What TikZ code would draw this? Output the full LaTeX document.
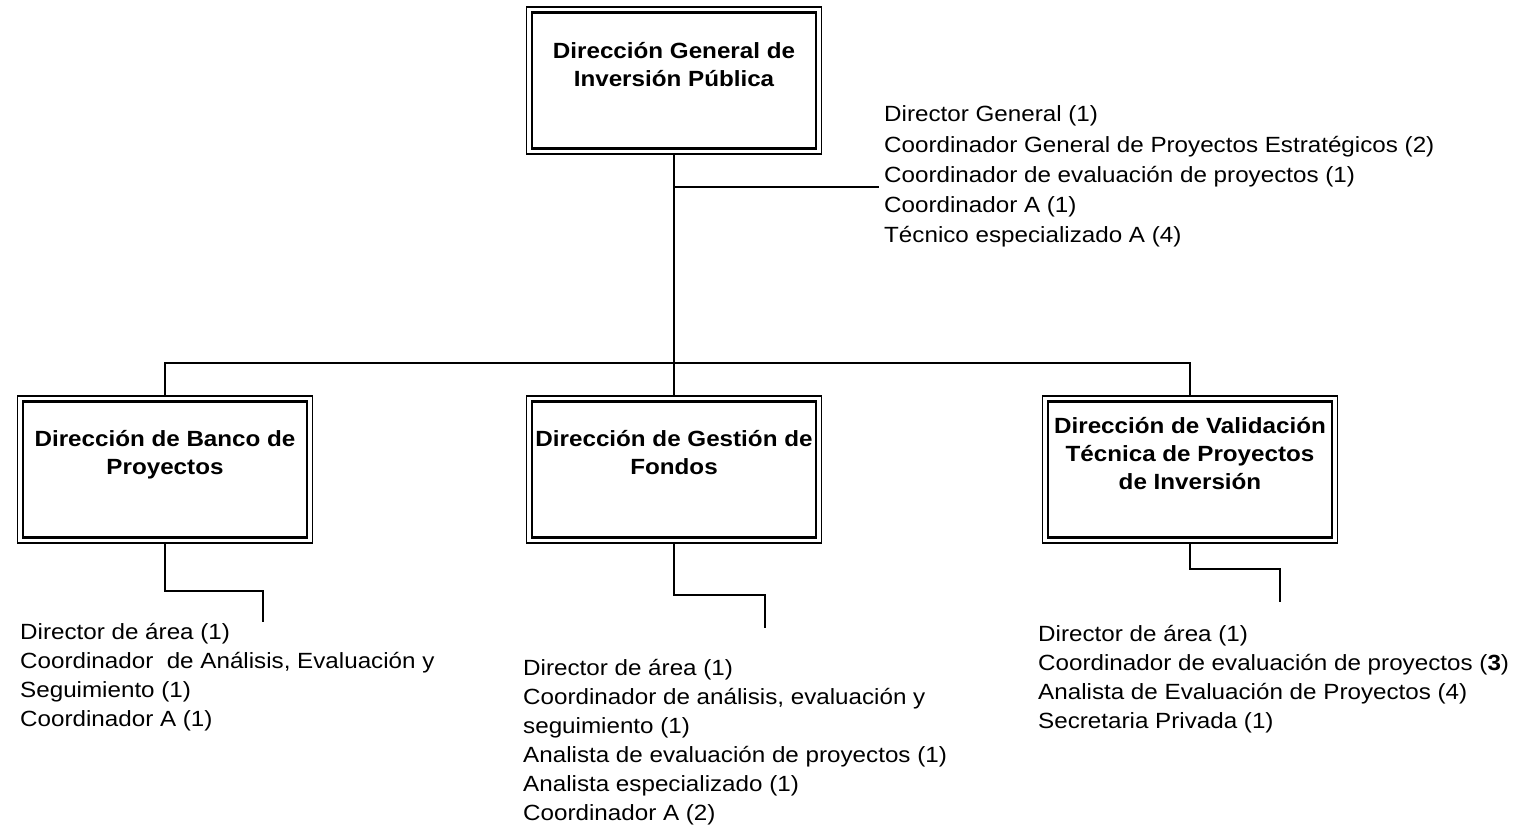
\documentclass[tikz,border=0pt]{standalone}
\usepackage{fontspec}
\setmainfont{Liberation Sans}[FakeStretch=1.1]
\begin{document}
\begin{tikzpicture}[x=1pt,y=-1pt]
\tikzset{
  box/.style={draw, line width=1.6pt, minimum width=295pt, minimum height=147pt, inner sep=0pt, outer sep=0pt},
  inbox/.style={line width=2.6pt},
  conn/.style={line width=2pt},
  title/.style={anchor=base, inner sep=0pt, font=\fontsize{22}{28.3}\selectfont\bfseries},
  lst/.style={anchor=base west, inner sep=0pt, font=\fontsize{22}{29}\selectfont},
  lsttop/.style={anchor=base west, inner sep=0pt, font=\fontsize{22}{30.3}\selectfont},
}
\fill[white] (0,0) rectangle (1515,827);
\useasboundingbox (0,0) rectangle (1515,827);

% boxes
\node[box] (top) at (674,80.5) {};
\node[box] (banco) at (165,469.5) {};
\node[box] (gestion) at (674,469.5) {};
\node[box] (valid) at (1190,469.5) {};
\foreach \n in {top,banco,gestion,valid}
  \draw[inbox] ([xshift=5.5pt,yshift=-5.5pt]\n.north west) rectangle ([xshift=-5.5pt,yshift=5.5pt]\n.south east);

% titles
\node[title] (ttop) at (674,58.3) {\begin{tabular}[t]{@{}c@{}}Dirección General de\\Inversión Pública\end{tabular}};
\node[title] (tbanco) at (165,446) {\begin{tabular}[t]{@{}c@{}}Dirección de Banco de\\Proyectos\end{tabular}};
\node[title] (tgestion) at (674,446) {\begin{tabular}[t]{@{}c@{}}Dirección de Gestión de\\Fondos\end{tabular}};
\node[title] (tvalid) at (1190,433.3) {\begin{tabular}[t]{@{}c@{}}Dirección de Validación\\Técnica de Proyectos\\de Inversión\end{tabular}};

% lists
\node[lsttop] (ltop) at (884,121.7) {\begin{tabular}[t]{@{}l@{}}Director General (1)\\Coordinador General de Proyectos Estratégicos (2)\\Coordinador de evaluación de proyectos (1)\\Coordinador A (1)\\Técnico especializado A (4)\end{tabular}};
\node[lst] (lbanco) at (20,639) {\begin{tabular}[t]{@{}l@{}}Director de área (1)\\Coordinador\ \ de Análisis, Evaluación y\\Seguimiento (1)\\Coordinador A (1)\end{tabular}};
\node[lst] (lgestion) at (523,675) {\begin{tabular}[t]{@{}l@{}}Director de área (1)\\Coordinador de análisis, evaluación y\\seguimiento (1)\\Analista de evaluación de proyectos (1)\\Analista especializado (1)\\Coordinador A (2)\end{tabular}};
\node[lst] (lvalid) at (1038,641) {\begin{tabular}[t]{@{}l@{}}Director de área (1)\\Coordinador de evaluación de proyectos (\textbf{3})\\Analista de Evaluación de Proyectos (4)\\Secretaria Privada (1)\end{tabular}};

% connectors
\coordinate (bus) at (674,363.3);
\coordinate (br) at (674,187);
\draw[conn] (top.south) -- (bus);
\draw[conn] (br) -- ++(205,0);
\draw[conn] (banco.north) -- (banco.north |- bus) -- (valid.north |- bus) -- (valid.north);
\draw[conn] (bus) -- (gestion.north);
\draw[conn] (banco.south) -- ++(0,48) -| ++(98,31);
\draw[conn] (gestion.south) -- ++(0,51.5) -| ++(90.5,33.5);
\draw[conn] (valid.south) -- ++(0,26) -| ++(90,33);
\end{tikzpicture}
\end{document}
